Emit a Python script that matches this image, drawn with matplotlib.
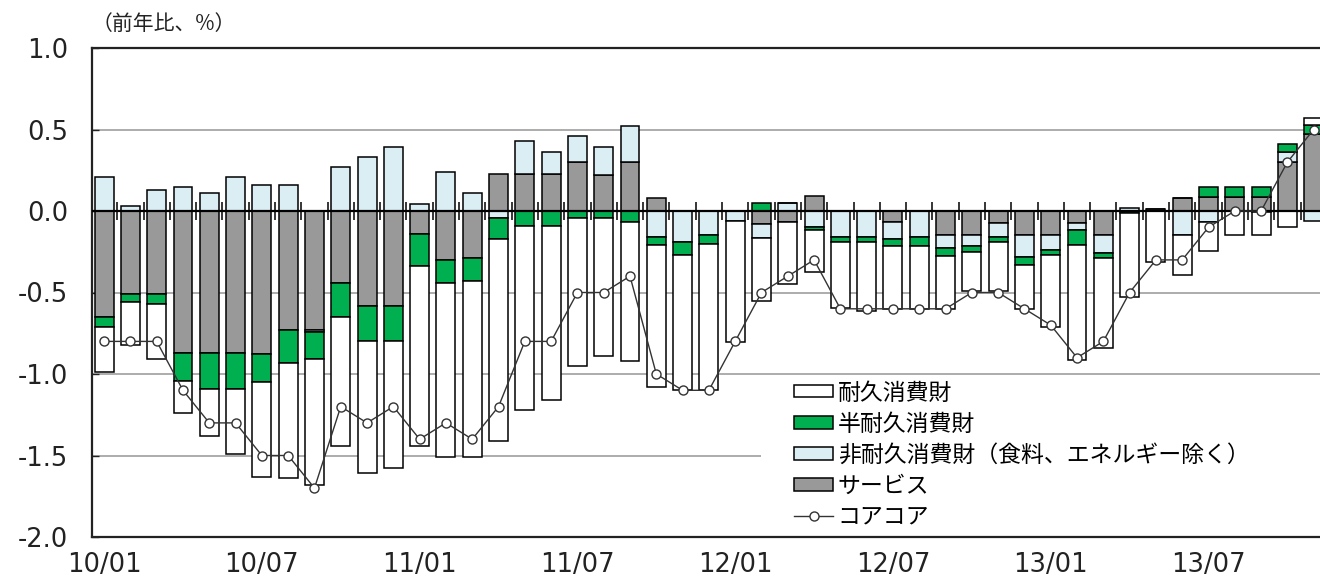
import numpy as np
import matplotlib.pyplot as plt
from matplotlib.patches import Rectangle

plt.rcParams['font.family'] = ['DejaVu Sans', 'Noto Sans CJK JP']

# 2010/01 .. 2013/11, contributions (前年比寄与度, %)
months = [f"{y:02d}/{m:02d}" for y in range(10, 14) for m in range(1, 13)][:47]

services = [-0.65, -0.51, -0.51, -0.87, -0.87, -0.87, -0.88, -0.73, -0.73, -0.44,
            -0.585, -0.585, -0.14, -0.30, -0.29, 0.23, 0.23, 0.23, 0.30, 0.22,
            0.30, 0.08, 0.0, 0.0, 0.0, -0.08, -0.07, 0.09, 0.0, 0.0,
            -0.07, 0.0, -0.147, -0.147, -0.076, -0.147, -0.147, -0.076, -0.15, 0.0,
            0.0, 0.08, 0.085, 0.085, 0.085, 0.30, 0.47]
nondurable = [0.21, 0.03, 0.13, 0.15, 0.11, 0.21, 0.16, 0.16, -0.01, 0.27,
              0.33, 0.39, 0.04, 0.24, 0.11, -0.04, 0.20, 0.13, 0.16, 0.17,
              0.22, -0.16, -0.19, -0.15, -0.06, -0.085, 0.05, -0.10, -0.157, -0.157,
              -0.10, -0.16, -0.082, -0.068, -0.084, -0.133, -0.093, -0.041, -0.11, 0.02,
              0.01, -0.15, -0.067, 0.0, -0.005, 0.06, -0.06]
semidurable = [-0.06, -0.05, -0.06, -0.17, -0.22, -0.22, -0.17, -0.20, -0.17, -0.21,
               -0.215, -0.215, -0.20, -0.14, -0.14, -0.13, -0.09, -0.09, -0.04, -0.04,
               -0.07, -0.05, -0.08, -0.05, 0.0, 0.05, 0.0, -0.015, -0.035, -0.035,
               -0.045, -0.055, -0.047, -0.035, -0.03, -0.05, -0.03, -0.092, -0.03, -0.01,
               0.0, 0.0, 0.065, 0.065, 0.065, 0.05, 0.06]
durable = [-0.28, -0.26, -0.34, -0.20, -0.29, -0.40, -0.58, -0.71, -0.77, -0.79,
           -0.81, -0.775, -1.10, -1.07, -1.08, -1.24, -1.13, -1.07, -0.91, -0.85,
           -0.85, -0.87, -0.83, -0.90, -0.745, -0.39, -0.38, -0.26, -0.405, -0.42,
           -0.385, -0.385, -0.324, -0.24, -0.30, -0.27, -0.44, -0.705, -0.55, -0.52,
           -0.31, -0.245, -0.18, -0.15, -0.145, -0.10, 0.04]
core_core = [-0.8, -0.8, -0.8, -1.1, -1.3, -1.3, -1.5, -1.5, -1.7, -1.2,
             -1.3, -1.2, -1.4, -1.3, -1.4, -1.2, -0.8, -0.8, -0.5, -0.5,
             -0.4, -1.0, -1.1, -1.1, -0.8, -0.5, -0.4, -0.3, -0.6, -0.6,
             -0.6, -0.6, -0.6, -0.5, -0.5, -0.6, -0.7, -0.9, -0.8, -0.5,
             -0.3, -0.3, -0.1, 0.0, 0.0, 0.3, 0.5]

series = [
    (services, "サービス", "#999999"),
    (nondurable, "非耐久消費財（食料、エネルギー除く）", "#dbeef4"),
    (semidurable, "半耐久消費財", "#00b050"),
    (durable, "耐久消費財", "#ffffff"),
]

x = np.arange(len(months))
fig = plt.figure(figsize=(13.2, 5.78), dpi=100)
ax = fig.add_axes([92 / 1320, 1 - 537 / 578, 1 - 92 / 1320, (537 - 48) / 578])

pos_base = np.zeros(len(x))
neg_base = np.zeros(len(x))
handles = {}
for vals, label, color in series:
    v = np.array(vals)
    base = np.where(v >= 0, pos_base, neg_base)
    h = ax.bar(x, v, 0.72, bottom=base, color=color, edgecolor="black",
               linewidth=1.1, zorder=3, label=label)
    handles[label] = h
    pos_base += np.clip(v, 0, None)
    neg_base += np.clip(v, None, 0)

cc, = ax.plot(x, core_core, color="#333333", lw=1.0, marker="o", ms=6.5,
              mfc="white", mec="#333333", mew=1.0, zorder=5, label="コアコア")

# zero line with small separators between months
ax.axhline(0, color="black", lw=1.6, zorder=4)
ax.vlines(x[:-1] + 0.5, -0.055, 0.055, color="black", lw=1.1, zorder=2)

for g in [0.5, -0.5, -1.0, -1.5]:
    ax.axhline(g, color="#a6a6a6", lw=1.3, zorder=1)

# white area behind the legend hides the gridline
ax.add_patch(Rectangle((0.545, 0.012), 0.46, 0.313, transform=ax.transAxes,
                       facecolor="white", edgecolor="none", zorder=1.5))

ax.set_xlim(-0.46, 46.24)
ax.set_ylim(-2.0, 1.0)
yt = [1.0, 0.5, 0.0, -0.5, -1.0, -1.5, -2.0]
ax.set_yticks(yt)
ax.set_yticklabels([f"{t:.1f}" for t in yt])
ax.set_xticks(x[::6])
ax.set_xticklabels(months[::6])
ax.tick_params(axis="y", direction="in", length=5, width=1.0, pad=17,
               labelsize=18.5, colors="#222222")
ax.tick_params(axis="x", length=0, pad=11, labelsize=18.5, colors="#222222")
for s in ["left", "top", "bottom"]:
    ax.spines[s].set_linewidth(1.6)
    ax.spines[s].set_color("#222222")
ax.spines["right"].set_visible(False)

order = ["耐久消費財", "半耐久消費財", "非耐久消費財（食料、エネルギー除く）", "サービス"]
leg = ax.legend([handles[k] for k in order] + [cc], order + ["コアコア"],
                loc="upper left", bbox_to_anchor=(0.5717, 0.318), borderaxespad=0,
                frameon=False, borderpad=0,
                labelspacing=0.35, handlelength=1.7, handleheight=0.45,
                handletextpad=0.2, prop={"family": ["Noto Sans CJK JP"], "size": 16.5})
leg.set_zorder(6)

fig.text(92 / 1320, 1 - 24 / 578, "（前年比、%）", fontsize=15,
         family=["Noto Sans CJK JP"], va="center", ha="left", color="#222222")

fig.savefig("out.png", dpi=100)
